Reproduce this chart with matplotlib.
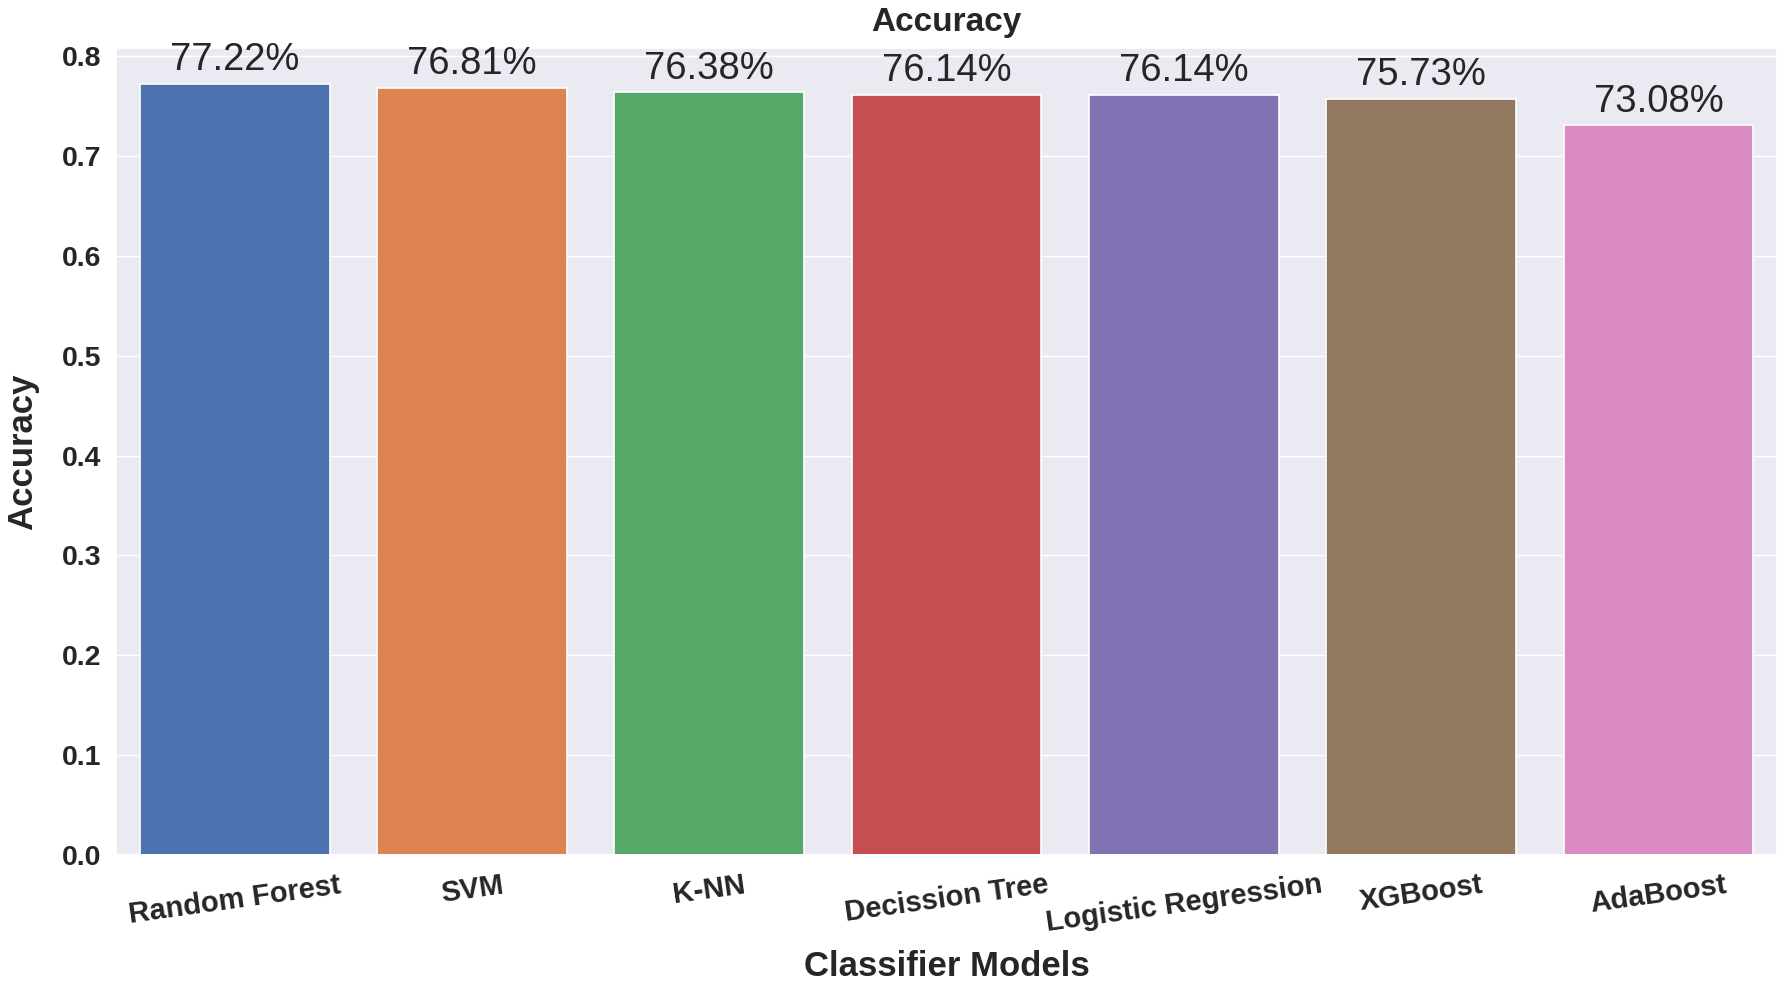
#! /usr/bin/env python3
# bar chart of classifier accuracy with percent labels on top of each bar
import matplotlib
matplotlib.use("Agg")
import matplotlib.pyplot as plt
import seaborn as sns

models = ["Random Forest", "SVM", "K-NN", "Decission Tree",
          "Logistic Regression", "XGBoost", "AdaBoost"]
accuracy = [0.7722, 0.7681, 0.7638, 0.7614, 0.7614, 0.7573, 0.7308]
yticks = [0.0, 0.1, 0.2, 0.3, 0.4, 0.5, 0.6, 0.7, 0.8]

sns.set_theme(style="darkgrid")
plt.rcParams['font.family'] = ['Liberation Sans', 'DejaVu Sans']

colors = sns.color_palette("deep", len(models))

fig = plt.figure(figsize=(17.81, 9.84), dpi=100)
ax = fig.add_axes([0.0651, 0.1311, 0.9327, 0.8201])

bars = ax.bar(models, accuracy, width=0.8, color=colors,
              edgecolor="white", linewidth=1.2)

for b, v in zip(bars, accuracy):
    ax.annotate("{:.2f}%".format(v * 100),
                (b.get_x() + b.get_width() / 2, b.get_height()),
                xytext=(0, 4), textcoords="offset points",
                ha="center", va="bottom", fontsize=27.5, color="#262626")

ax.set_xlim(-0.5, len(models) - 0.5)
ax.set_ylim(0, 0.808)
ax.set_yticks(yticks)
ax.set_yticklabels(["{:.1f}".format(t) for t in yticks],
                   fontsize=20.5, fontweight="bold")
ax.tick_params(axis="y", pad=4.5)
ax.tick_params(axis="x", pad=5.5)
plt.setp(ax.get_xticklabels(), rotation=8, fontsize=21, fontweight="bold")
ax.xaxis.grid(False)

ax.set_title("Accuracy", fontsize=24, fontweight="bold", pad=12)
ax.set_xlabel("Classifier Models", fontsize=25, fontweight="bold", labelpad=9)
ax.set_ylabel("Accuracy", fontsize=25, fontweight="bold", labelpad=16)

plt.savefig("out.png", dpi=100)
plt.close('all')
